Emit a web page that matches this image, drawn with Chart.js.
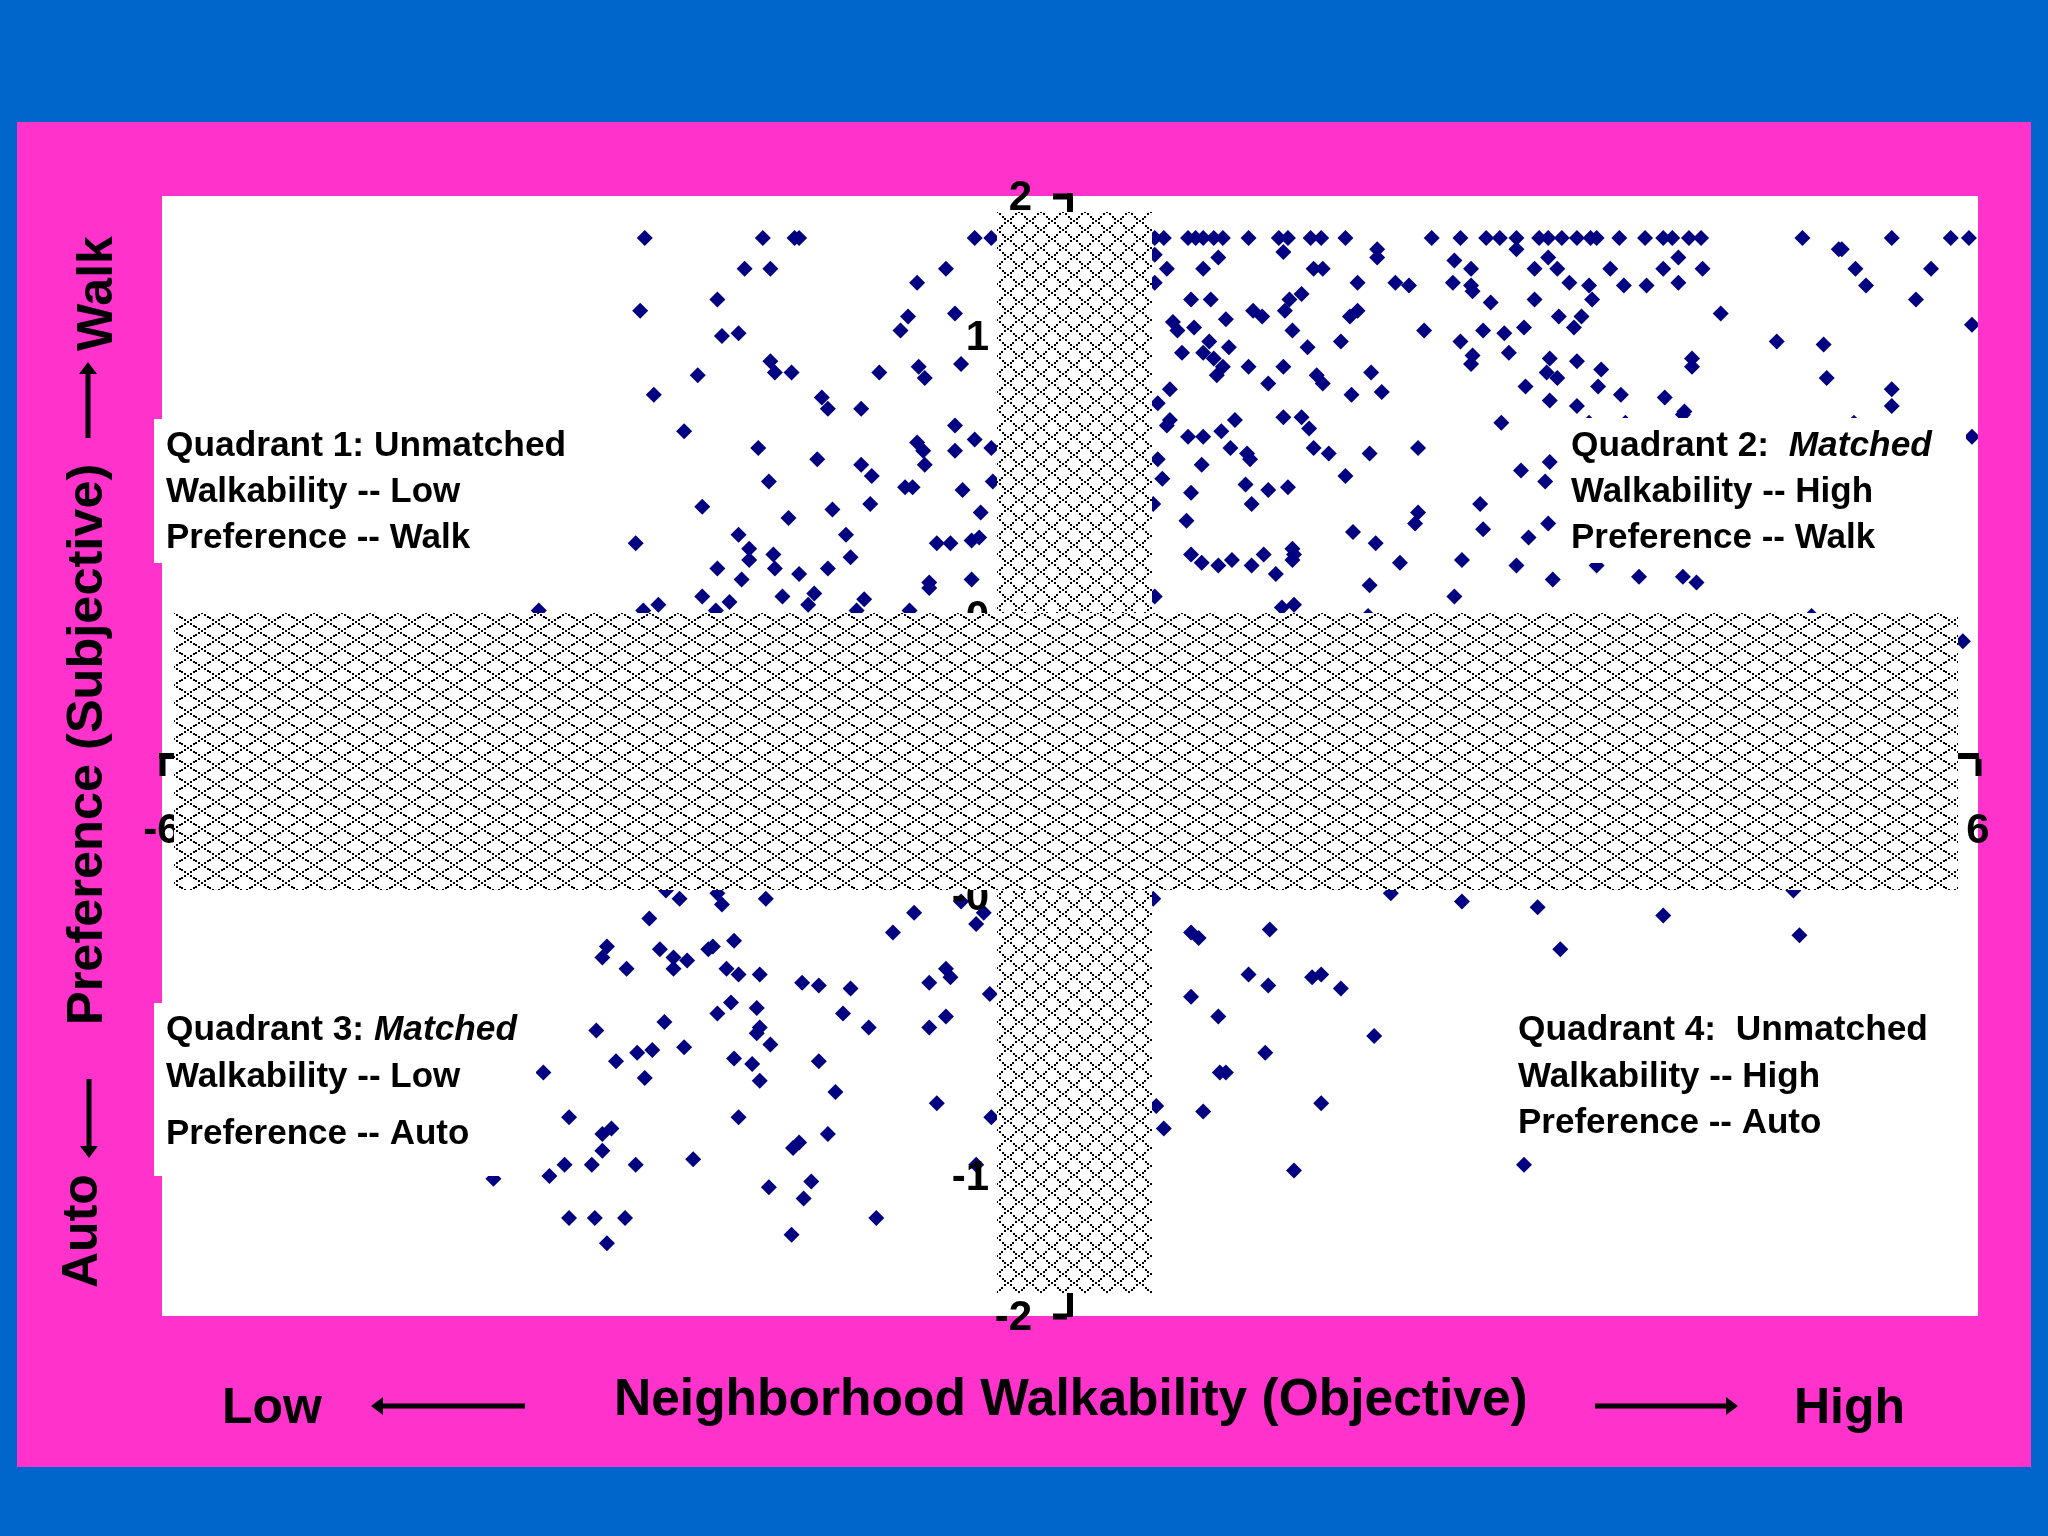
<!DOCTYPE html>
<html>
<head>
<meta charset="utf-8">
<title>Neighborhood Walkability vs Preference</title>
<script src="https://cdn.jsdelivr.net/npm/chart.js@4/dist/chart.umd.min.js"></script>
<style>
  html, body { margin: 0; padding: 0; background: #0066cc; }
  #marco { position: absolute; left: 17px; top: 122px; width: 2014px; height: 1345px; background: #ff33cc; }
  #grafica { position: absolute; left: 0; top: 0; }
</style>
</head>
<body>
<div id="marco"></div>
<canvas id="grafica" width="2048" height="1536"></canvas>
<script>
// tick values and what the axes print for them
const xTickValues = [-6, 6];
const xTickLabels = ['-6', '6'];
const yTickValues = [-2, -1.5, -0.5, 0.5, 1.5, 2];
const yTickLabels = ['-2', '-1', '-0', '0', '1', '2'];

// Quadrant 1: low walkability, prefers walking
const q1X = [
  -2.81,-2.03,-1.82,-1.79,-0.63,-0.52,-2.15,-1.98,-0.82,-1.01,
  -2.33,-2.84,-1.07,-0.76,-1.12,-2.30,-2.19,-1.98,-1.95,-1.84,
  -2.46,-1.26,-1.00,-0.96,-0.72,-2.75,-1.64,-1.60,-1.38,-2.55,
  -0.76,-1.01,-0.63,-0.52,-2.06,-0.97,-0.76,-1.67,-1.38,-0.96,
  -1.31,-1.99,-1.09,-1.04,-0.71,-0.51,-2.43,-1.32,-1.57,-1.86,
  -0.59,-2.19,-1.48,-2.87,-2.12,-0.88,-0.79,-0.65,-0.60,-2.12,
  -1.96,-1.45,-2.33,-1.95,-1.60,-1.79,-2.17,-0.65,-0.93,-0.93,
  -2.43,-2.25,-1.90,-1.69,-1.73,-1.36,-3.51,-2.82,-2.72,-2.34,
  -1.41,-1.06
];
const q1Y = [
  1.85,1.85,1.85,1.85,1.85,1.85,1.74,1.74,1.74,1.69,
  1.63,1.59,1.57,1.58,1.52,1.50,1.51,1.41,1.37,1.37,
  1.36,1.37,1.39,1.35,1.40,1.29,1.28,1.24,1.24,1.16,
  1.18,1.12,1.13,1.10,1.10,1.09,1.09,1.06,1.04,1.04,
  1.00,0.98,0.96,0.96,0.95,0.98,0.89,0.90,0.88,0.85,
  0.87,0.79,0.79,0.76,0.74,0.76,0.76,0.77,0.78,0.70,
  0.72,0.71,0.67,0.67,0.67,0.65,0.63,0.63,0.62,0.60,
  0.57,0.55,0.57,0.58,0.54,0.56,0.52,0.52,0.54,0.52,
  0.52,0.52
];

// Quadrant 2: high walkability, prefers walking
const q2X = [
  0.56,0.62,0.78,0.83,0.88,0.95,1.01,1.18,1.38,1.44,
  1.59,1.66,1.82,2.39,2.58,2.75,2.84,2.95,3.10,3.16,
  3.25,3.35,3.44,3.48,3.63,3.80,3.92,3.98,4.09,4.17,
  4.84,5.43,5.82,5.94,
  1.41,2.03,2.03,2.95,0.56,0.98,3.16,4.02,5.08,5.10,
  2.54,0.64,0.88,1.61,1.67,2.65,3.07,3.22,3.57,3.92,
  4.18,5.19,5.69,0.56,1.90,2.15,2.24,2.53,2.65,2.66,
  3.30,3.43,3.66,3.81,4.02,5.26,1.53,1.45,0.80,0.93,
  3.07,3.45,2.78,5.59,1.21,1.42,1.27,1.90,1.85,3.23,
  3.38,4.30,0.68,1.03,0.82,0.71,3.33,1.47,2.34,2.73,
  2.87,3.00,5.96,1.79,2.58,4.67,4.98,0.92,1.05,1.57,
  0.74,0.88,2.90,0.95,2.66,2.65,3.17,3.35,4.11,4.11,
  1.01,1.18,1.41,3.51,0.97,1.63,1.99,3.15,3.22,5.00,
  1.67,1.31,3.01,3.49,0.66,5.43,2.06,1.86,3.64,0.58,
  3.17,3.93,3.35,5.43,4.06,4.05,3.43,3.67,5.18,0.66,
  0.64,1.09,1.41,1.53,1.58,2.85,1.00,0.78,0.88,5.96,
  1.06,1.61,2.30,1.17,1.19,1.71,1.98,0.58,0.87,3.17,
  2.98,1.82,3.14,0.61,1.16,1.44,1.31,0.80,0.55,1.20,
  2.71,2.30,2.28,0.77,3.16,1.87,2.73,3.03,2.02,1.47,
  0.80,1.28,1.48,1.47,1.07,2.59,0.87,0.98,1.20,2.18,
  2.95,3.48,1.36,3.19,3.76,4.05,4.14,1.98,2.54,0.56,
  1.48,1.40,1.97,4.90,5.90
];
const q2Y = [
  1.85,1.85,1.85,1.85,1.85,1.85,1.85,1.85,1.85,1.85,
  1.85,1.85,1.85,1.85,1.85,1.85,1.85,1.85,1.85,1.85,
  1.85,1.85,1.85,1.85,1.85,1.85,1.85,1.85,1.85,1.85,
  1.85,1.85,1.85,1.85,
  1.80,1.81,1.78,1.81,1.79,1.78,1.78,1.78,1.81,1.81,
  1.77,1.74,1.74,1.74,1.74,1.74,1.74,1.74,1.74,1.74,
  1.74,1.74,1.74,1.69,1.69,1.69,1.68,1.69,1.68,1.66,
  1.69,1.68,1.68,1.68,1.69,1.68,1.65,1.63,1.63,1.63,
  1.63,1.63,1.62,1.63,1.59,1.59,1.57,1.59,1.57,1.57,
  1.57,1.58,1.55,1.56,1.53,1.52,1.53,1.52,1.52,1.52,
  1.51,1.53,1.54,1.48,1.48,1.48,1.47,1.48,1.46,1.46,
  1.44,1.44,1.44,1.42,1.43,1.40,1.42,1.41,1.42,1.39,
  1.39,1.39,1.39,1.38,1.36,1.36,1.37,1.37,1.35,1.35,
  1.33,1.33,1.32,1.32,1.31,1.31,1.30,1.29,1.29,1.26,
  1.27,1.28,1.25,1.25,1.23,1.22,1.19,1.19,1.19,1.20,
  1.18,1.20,1.21,1.21,1.17,1.19,1.16,1.14,1.14,1.14,
  1.10,1.10,1.10,1.08,1.06,1.08,1.08,1.06,1.04,1.05,
  1.02,1.00,0.98,0.99,0.97,0.96,0.95,0.94,0.90,0.90,
  0.90,0.87,0.83,0.84,0.83,0.80,0.81,0.78,0.76,0.74,
  0.72,0.72,0.72,0.70,0.70,0.70,0.69,0.68,0.68,0.69,
  0.68,0.68,0.65,0.63,0.64,0.64,0.62,0.61,0.57,0.57,
  0.54,0.53,0.50,0.50,0.41
];

// Quadrant 3: low walkability, prefers auto
const q3X = [
  -2.67,-2.58,-2.33,-2.30,-2.01,-0.72,-0.57,-0.62,-1.03,-2.78,
  -1.17,-3.06,-3.09,-2.71,-2.22,-2.36,-2.39,-2.62,-2.53,-2.93,
  -2.62,-2.27,-2.19,-2.05,-1.77,-1.66,-1.45,-0.82,-0.79,-0.93,
  -0.53,-2.24,-2.33,-2.07,-1.50,-0.82,-0.93,-2.68,-3.13,-2.05,
  -2.07,-1.33,-1.98,-2.55,-2.76,-2.86,-3.00,-2.22,-2.10,-1.66,
  -3.48,-2.81,-2.05,-1.55,-0.88,-3.31,-2.19,-0.52,-3.03,-3.09,
  -1.60,-1.79,-1.83,-3.09,-3.34,-3.16,-2.87,-2.49,-0.62,-3.44,
  -3.81,-1.71,-1.99,-1.76,-3.31,-3.14,-2.94,-1.28,-1.84,-3.06
];
const q3Y = [
  -0.48,-0.51,-0.49,-0.53,-0.51,-0.52,-0.56,-0.60,-0.56,-0.58,
  -0.63,-0.68,-0.72,-0.69,-0.66,-0.68,-0.69,-0.72,-0.73,-0.76,
  -0.76,-0.76,-0.78,-0.78,-0.81,-0.82,-0.83,-0.76,-0.79,-0.81,
  -0.85,-0.88,-0.92,-0.90,-0.92,-0.93,-0.97,-0.95,-0.98,-0.97,
  -0.99,-0.97,-1.03,-1.04,-1.05,-1.06,-1.09,-1.08,-1.10,-1.09,
  -1.13,-1.15,-1.16,-1.20,-1.24,-1.29,-1.29,-1.29,-1.33,-1.35,
  -1.35,-1.38,-1.40,-1.41,-1.46,-1.46,-1.46,-1.44,-1.46,-1.50,
  -1.51,-1.52,-1.54,-1.58,-1.65,-1.65,-1.65,-1.65,-1.71,-1.74
];

// Quadrant 4: high walkability, prefers auto
const q4X = [
  0.55,2.12,2.59,3.09,3.92,4.78,4.82,3.24,1.32,0.80,
  0.85,1.18,1.31,1.60,1.66,1.79,0.80,0.98,2.01,1.29,
  0.99,1.03,0.57,1.66,0.88,0.62,1.48,3.00
];
const q4Y = [
  -0.51,-0.49,-0.52,-0.54,-0.57,-0.48,-0.64,-0.69,-0.62,-0.63,
  -0.65,-0.78,-0.82,-0.79,-0.78,-0.83,-0.86,-0.93,-1.00,-1.06,
  -1.13,-1.13,-1.25,-1.24,-1.27,-1.33,-1.48,-1.46
];

const FONT = '"Liberation Sans", Arial, sans-serif';
const NAVY = '#000080';

function makePoints(xs, ys) {
  return xs.map((x, i) => ({ x: x, y: ys[i] }));
}

function quadrantDataset(name, xs, ys) {
  return {
    label: name,
    data: makePoints(xs, ys),
    pointStyle: 'rectRot',
    pointRadius: 8,
    pointBackgroundColor: NAVY,
    pointBorderWidth: 0,
    showLine: false
  };
}

// dotted lattice tile, same look as the shaded bands of the original slide
function hatchPattern(ctx, w, h, steps) {
  const tile = document.createElement('canvas');
  tile.width = w;
  tile.height = h;
  const t = tile.getContext('2d');
  t.fillStyle = '#000';
  for (let i = 0; i < steps * 2; i++) {
    const px = Math.round(i * w / (steps * 2));
    const py = Math.round(i * h / (steps * 2));
    t.fillRect(px - 1, py - 1, 2, 2);
    t.fillRect(w - px - 1, py - 1, 2, 2);
    // wrap around the tile edges
    t.fillRect(px - 1 + w, py - 1, 2, 2);
    t.fillRect(px - 1, py - 1 + h, 2, 2);
    t.fillRect(-px - 1, py - 1, 2, 2);
    t.fillRect(w - px - 1, py - 1 + h, 2, 2);
  }
  return ctx.createPattern(tile, 'repeat');
}

function drawBand(ctx, x, y, w, h, pattern) {
  ctx.save();
  ctx.fillStyle = '#fff';
  ctx.fillRect(x, y, w, h);
  ctx.translate(x, y);
  ctx.fillStyle = pattern;
  ctx.fillRect(0, 0, w, h);
  ctx.restore();
}

// one line of text, parts can be [text, italic]
function textLine(ctx, parts, x, y, size) {
  let cx = x;
  parts.forEach(p => {
    ctx.font = (p[1] ? 'italic ' : '') + 'bold ' + size + 'px ' + FONT;
    ctx.fillText(p[0], cx, y);
    cx += ctx.measureText(p[0]).width;
  });
}

function arrow(ctx, x1, y1, x2, y2) {
  const a = Math.atan2(y2 - y1, x2 - x1);
  ctx.save();
  ctx.translate(x2, y2);
  ctx.rotate(a);
  const len = Math.hypot(x2 - x1, y2 - y1);
  ctx.fillStyle = '#000';
  ctx.fillRect(-len, -2.5, len - 8, 5);
  ctx.beginPath();
  ctx.moveTo(0, 0);
  ctx.lineTo(-12, -9);
  ctx.lineTo(-12, 9);
  ctx.closePath();
  ctx.fill();
  ctx.restore();
}

const plotBackground = {
  id: 'plotBackground',
  beforeDraw(chart) {
    const a = chart.chartArea;
    chart.ctx.fillStyle = '#fff';
    chart.ctx.fillRect(a.left, a.top, a.right - a.left, a.bottom - a.top);
  }
};

// y tick labels stand off the centre axis, the library puts them right on it when the axis is moved.
// the end labels sit closer to the axis than the others in the reference
function drawYTickLabels(chart) {
  const ctx = chart.ctx;
  const axisX = chart.scales.x.getPixelForValue(0);
  ctx.save();
  ctx.fillStyle = '#000';
  ctx.font = 'bold 42px ' + FONT;
  ctx.textAlign = 'right';
  ctx.textBaseline = 'middle';
  yTickValues.forEach((v, i) => {
    const gap = Math.abs(v) === 2 ? 38 : 81;
    ctx.fillText(yTickLabels[i], axisX - gap, chart.scales.y.getPixelForValue(v) + 2);
  });
  ctx.restore();
}

// the bands sit over the axes and the points, as in the reference
const shadedBands = {
  id: 'shadedBands',
  afterDatasetsDraw(chart) {
    const ctx = chart.ctx;
    drawYTickLabels(chart);
    drawBand(ctx, 997, 212, 155, 1081, hatchPattern(ctx, 22, 18, 4));
    drawBand(ctx, 174, 613, 1784, 277, hatchPattern(ctx, 28, 18, 5));
  }
};

const annotations = {
  id: 'annotations',
  afterDraw(chart) {
    const ctx = chart.ctx;
    ctx.save();
    ctx.fillStyle = '#fff';
    ctx.fillRect(154, 419, 474, 144);
    ctx.fillRect(1558, 418, 408, 145);
    ctx.fillRect(154, 1003, 382, 173);

    ctx.fillStyle = '#000';
    ctx.textBaseline = 'alphabetic';
    ctx.textAlign = 'left';
    textLine(ctx, [['Quadrant 1: Unmatched']], 166, 456, 35.3);
    textLine(ctx, [['Walkability -- Low']], 166, 502, 35);
    textLine(ctx, [['Preference -- Walk']], 166, 548, 35);

    textLine(ctx, [['Quadrant 2:  '], ['Matched', true]], 1571, 456, 35.3);
    textLine(ctx, [['Walkability -- High']], 1571, 502, 35);
    textLine(ctx, [['Preference -- Walk']], 1571, 548, 35);

    textLine(ctx, [['Quadrant 3: '], ['Matched', true]], 166, 1040, 35.3);
    textLine(ctx, [['Walkability -- Low']], 166, 1087, 35);
    textLine(ctx, [['Preference -- Auto']], 166, 1144, 35);

    textLine(ctx, [['Quadrant 4:  Unmatched']], 1518, 1040, 35.3);
    textLine(ctx, [['Walkability -- High']], 1518, 1087, 35);
    textLine(ctx, [['Preference -- Auto']], 1518, 1133, 35);

    // axis titles
    textLine(ctx, [['Neighborhood Walkability (Objective)']], 614, 1415, 51.5);
    textLine(ctx, [['Low']], 222, 1423, 50);
    textLine(ctx, [['High']], 1794, 1423, 50);
    arrow(ctx, 525, 1406, 371, 1406);
    arrow(ctx, 1595, 1406, 1738, 1406);

    ctx.save();
    ctx.translate(102, 1025);
    ctx.rotate(-Math.PI / 2);
    textLine(ctx, [['Preference (Subjective)']], 0, 0, 50.5);
    ctx.restore();
    ctx.save();
    ctx.translate(112, 351);
    ctx.rotate(-Math.PI / 2);
    textLine(ctx, [['Walk']], 0, 0, 50);
    ctx.restore();
    ctx.save();
    ctx.translate(97, 1288);
    ctx.rotate(-Math.PI / 2);
    textLine(ctx, [['Auto']], 0, 0, 50);
    ctx.restore();
    arrow(ctx, 88, 438, 88, 362);
    arrow(ctx, 89, 1079, 89, 1158);
    ctx.restore();
  }
};

new Chart(document.getElementById('grafica').getContext('2d'), {
  type: 'scatter',
  data: {
    datasets: [
      quadrantDataset('Quadrant 1', q1X, q1Y),
      quadrantDataset('Quadrant 2', q2X, q2Y),
      quadrantDataset('Quadrant 3', q3X, q3Y),
      quadrantDataset('Quadrant 4', q4X, q4Y)
    ]
  },
  options: {
    responsive: false,
    animation: false,
    layout: { padding: { left: 162, right: 70, top: 196, bottom: 220 } },
    plugins: {
      legend: { display: false },
      tooltip: { enabled: false }
    },
    scales: {
      x: {
        type: 'linear',
        min: -6,
        max: 6,
        position: { y: 0 },
        afterBuildTicks: axis => { axis.ticks = xTickValues.map(v => ({ value: v })); },
        grid: { drawOnChartArea: false, tickLength: 17, tickWidth: 6, tickColor: '#000' },
        border: { color: '#000', width: 6 },
        ticks: {
          color: '#000',
          padding: 33,
          autoSkip: false,
          maxRotation: 0,
          font: { family: FONT, weight: 'bold', size: 42 },
          callback: (value, i) => xTickLabels[i]
        }
      },
      y: {
        type: 'linear',
        min: -2,
        max: 2,
        position: { x: 0 },
        afterBuildTicks: axis => { axis.ticks = yTickValues.map(v => ({ value: v })); },
        grid: { drawOnChartArea: false, tickLength: 14, tickWidth: 6, tickColor: '#000' },
        border: { color: '#000', width: 6 },
        ticks: { display: false }
      }
    }
  },
  plugins: [plotBackground, shadedBands, annotations]
});
</script>
</body>
</html>
